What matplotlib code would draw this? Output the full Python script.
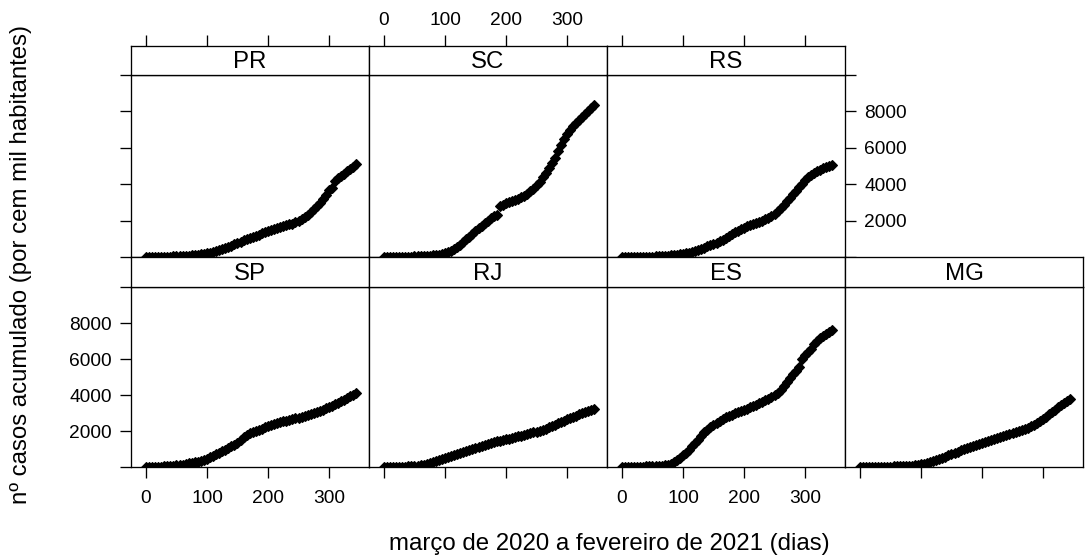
import numpy as np
import matplotlib
matplotlib.use("Agg")
import matplotlib.pyplot as plt

plt.rcParams['font.family'] = ['Liberation Sans', 'DejaVu Sans']

# days since the start of the series (one point every 5 days)
days = np.arange(0, 350, 5)

# cumulative cases per 100k inhabitants
pr = [0, 1, 3, 5, 8, 12, 15, 20, 25, 30,
      35, 40, 50, 60, 75, 90, 105, 125, 150, 175,
      200, 240, 290, 340, 390, 440, 490, 560, 630, 700,
      770, 840, 910, 970, 1030, 1100, 1170, 1230, 1300, 1370,
      1420, 1480, 1540, 1590, 1640, 1690, 1740, 1790, 1840, 1900,
      1980, 2070, 2180, 2310, 2460, 2620, 2800, 2990, 3200, 3430,
      3660, 3800, 4200, 4330, 4460, 4580, 4700, 4840, 4970, 5100]
sc = [0, 1, 2, 4, 6, 9, 12, 16, 20, 25,
      30, 36, 42, 50, 60, 72, 88, 105, 130, 160,
      200, 260, 340, 440, 560, 680, 820, 970, 1120, 1270,
      1420, 1570, 1730, 1880, 2000, 2120, 2230, 2330, 2780, 2880,
      2950, 3010, 3060, 3120, 3190, 3270, 3360, 3470, 3600, 3750,
      3930, 4120, 4380, 4630, 4900, 5150, 5420, 5800, 6150, 6500,
      6760, 6980, 7180, 7360, 7530, 7700, 7860, 8020, 8180, 8350]
rs = [0, 1, 2, 3, 5, 7, 10, 13, 17, 21,
      26, 32, 40, 48, 58, 70, 85, 100, 120, 145,
      170, 200, 235, 275, 320, 370, 430, 500, 580, 650,
      720, 790, 860, 940, 1020, 1130, 1250, 1350, 1440, 1530,
      1610, 1680, 1750, 1810, 1870, 1930, 1990, 2070, 2160, 2260,
      2380, 2520, 2680, 2860, 3050, 3250, 3450, 3640, 3840, 4030,
      4220, 4380, 4510, 4620, 4710, 4790, 4870, 4950, 5020, 5080]
sp = [0, 3, 6, 10, 15, 20, 28, 38, 50, 65,
      85, 110, 135, 165, 195, 225, 260, 300, 350, 410,
      470, 550, 630, 710, 790, 870, 960, 1050, 1140, 1240,
      1350, 1500, 1650, 1780, 1870, 1930, 1990, 2060, 2130, 2200,
      2260, 2320, 2380, 2430, 2480, 2530, 2580, 2620, 2660, 2700,
      2740, 2790, 2840, 2890, 2940, 3000, 3060, 3120, 3190, 3260,
      3330, 3400, 3480, 3560, 3650, 3740, 3840, 3930, 4020, 4100]
rj = [0, 2, 4, 7, 10, 14, 18, 23, 30, 40,
      55, 75, 100, 130, 170, 210, 260, 320, 380, 440,
      500, 560, 620, 680, 740, 790, 840, 890, 940, 1000,
      1060, 1120, 1180, 1230, 1280, 1330, 1380, 1420, 1460, 1500,
      1540, 1580, 1620, 1660, 1700, 1750, 1790, 1830, 1870, 1920,
      1970, 2020, 2070, 2130, 2200, 2270, 2340, 2420, 2500, 2570,
      2640, 2710, 2780, 2860, 2940, 3010, 3070, 3130, 3180, 3240]
es = [0, 2, 4, 7, 10, 14, 18, 23, 28, 34,
      40, 48, 58, 70, 90, 120, 170, 260, 370, 500,
      640, 800, 970, 1140, 1320, 1510, 1720, 1920, 2080, 2210,
      2320, 2440, 2550, 2660, 2760, 2840, 2910, 2980, 3050, 3120,
      3190, 3250, 3320, 3390, 3470, 3550, 3630, 3710, 3800, 3890,
      3990, 4110, 4290, 4500, 4730, 4950, 5150, 5340, 5560, 6000,
      6200, 6380, 6580, 6820, 7000, 7140, 7270, 7390, 7510, 7620]
mg = [0, 2, 3, 5, 7, 9, 12, 15, 18, 22,
      26, 30, 35, 40, 46, 53, 62, 75, 95, 120,
      150, 190, 240, 290, 340, 400, 460, 520, 580, 640,
      710, 780, 850, 920, 980, 1040, 1100, 1160, 1220, 1280,
      1330, 1390, 1450, 1510, 1570, 1630, 1690, 1740, 1790, 1840,
      1890, 1940, 2000, 2060, 2120, 2190, 2270, 2360, 2460, 2570,
      2690, 2800, 2930, 3060, 3190, 3320, 3440, 3560, 3670, 3770]

states = ["PR", "SC", "RS", "SP", "RJ", "ES", "MG"]
series = {"PR": pr, "SC": sc, "RS": rs, "SP": sp, "RJ": rj, "ES": es, "MG": mg}

x_ticks = [0, 100, 200, 300]
x_tick_labels = ["0", "100", "200", "300"]
y_ticks = [0, 2000, 4000, 6000, 8000, 10000]
y_tick_labels = ["", "2000", "4000", "6000", "8000", ""]

xlabel = "março de 2020 a fevereiro de 2021 (dias)"
ylabel = "nº casos acumulado (por cem mil habitantes)"

# ---- layout (pixels) ----
W, H = 1085, 560
fig = plt.figure(figsize=(W / 100, H / 100), dpi=100)

col_x = [131, 369, 607, 845, 1083]
# (strip top, panel top, panel bottom) for each row
rows = [(46, 75, 257), (257, 287, 467)]
grid = {"PR": (0, 0), "SC": (0, 1), "RS": (0, 2),
        "SP": (1, 0), "RJ": (1, 1), "ES": (1, 2), "MG": (1, 3)}

XLIM = (-24.5, 365.5)
YLIM = (0, 10000)
LINE = "black"
LW = 0.95
TICK_LEN = 7.9
TICK_FS = 13.8
LABEL_FS = 17.3


def box(x0, y0, x1, y1):
    return [x0 / W, 1 - y1 / H, (x1 - x0) / W, (y1 - y0) / H]


def style_spines(ax):
    for s in ax.spines.values():
        s.set_color(LINE)
        s.set_linewidth(LW)


for st in states:
    r, c = grid[st]
    s_top, p_top, p_bot = rows[r]
    x0, x1 = col_x[c], col_x[c + 1]

    ax = fig.add_axes(box(x0, p_top, x1, p_bot))
    ax.plot(days, series[st], ls="none", marker="D", ms=4.9, mew=0.8,
            color="black")
    ax.set_xlim(*XLIM)
    ax.set_ylim(*YLIM)
    style_spines(ax)

    # y axis: left on first column, right on last column of top row
    ax.set_yticks(y_ticks)
    ax.set_yticklabels(y_tick_labels)
    show_left = (c == 0)
    show_right = (r == 0 and c == 2)
    ax.tick_params(axis="y", direction="out", length=TICK_LEN, width=LW,
                   color=LINE, labelsize=TICK_FS, pad=6,
                   left=show_left, right=show_right,
                   labelleft=(show_left and r == 1),
                   labelright=(show_right and r == 0))

    # x axis: bottom ticks on the bottom row, alternating labels
    ax.set_xticks(x_ticks)
    ax.set_xticklabels(x_tick_labels)
    ax.tick_params(axis="x", direction="out", length=TICK_LEN, width=LW,
                   color=LINE, labelsize=TICK_FS, pad=9,
                   bottom=(r == 1), top=False,
                   labelbottom=(r == 1 and c in (0, 2)), labeltop=False)

    # strip with the state name
    sax = fig.add_axes(box(x0, s_top, x1, p_top))
    sax.set_facecolor("white")
    sax.set_xlim(*XLIM)
    sax.set_ylim(0, 1)
    sax.set_yticks([])
    style_spines(sax)
    sax.text(0.5, 0.45, st, transform=sax.transAxes, ha="center",
             va="center", fontsize=LABEL_FS, color="black")
    sax.set_xticks(x_ticks)
    sax.set_xticklabels(x_tick_labels)
    sax.tick_params(axis="x", direction="out", length=TICK_LEN, width=LW,
                    color=LINE, labelsize=TICK_FS, pad=4,
                    bottom=False, labelbottom=False,
                    top=(r == 0), labeltop=(r == 0 and c == 1))

fig.text(609 / W, 1 - 544 / H, xlabel, ha="center", va="center",
         fontsize=LABEL_FS, color="black")
fig.text(21 / W, 1 - 265 / H, ylabel, ha="center", va="center",
         rotation=90, fontsize=LABEL_FS, color="black")

fig.savefig("out.png", dpi=100, facecolor="white")
